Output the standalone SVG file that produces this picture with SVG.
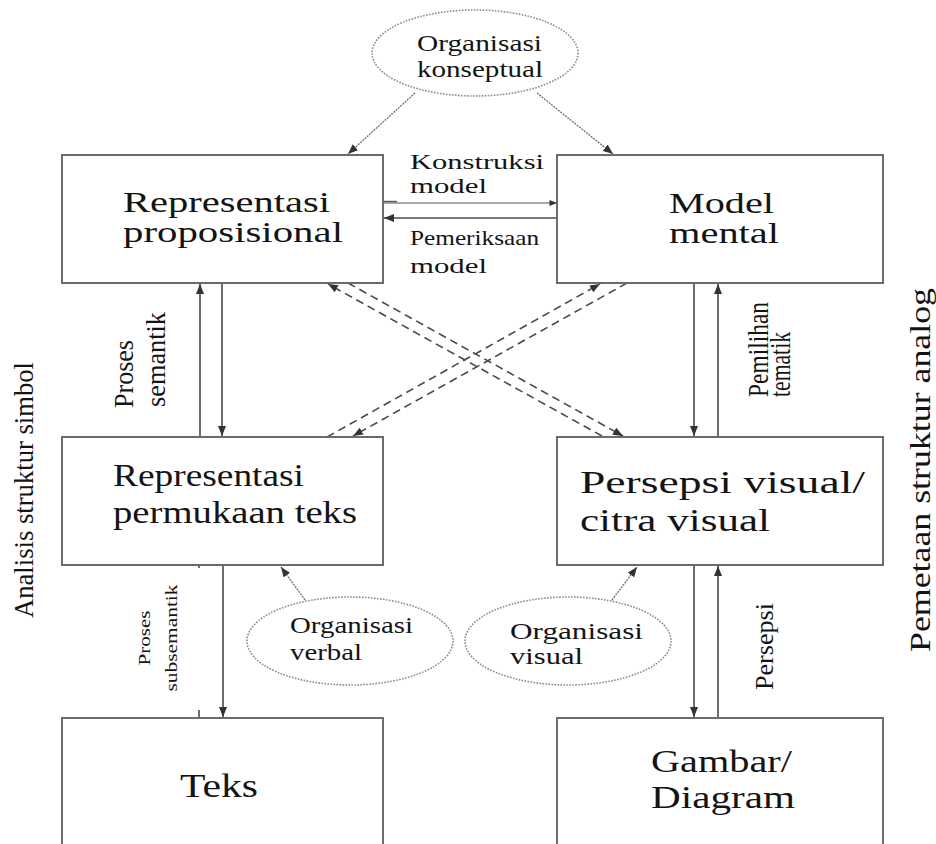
<svg xmlns="http://www.w3.org/2000/svg" width="936" height="844" viewBox="0 0 936 844">
  <style>
    .box { fill: #ffffff; stroke: #6b6b6b; stroke-width: 2; }
    .oval { fill: #ffffff; stroke: #8a8a8a; stroke-width: 1.6; stroke-dasharray: 1.6 1.4; }
    .t { font-family: "Liberation Serif", "Times New Roman", serif; fill: #141414; }
    .solid { stroke: #4a4a4a; stroke-width: 1.6; fill: none; }
    .thin { stroke: #555555; stroke-width: 1.1; fill: none; }
    .dotline { stroke: #6e6e6e; stroke-width: 1.3; fill: none; stroke-dasharray: 2 1; }
    .dash { stroke: #4a4a4a; stroke-width: 1.6; fill: none; stroke-dasharray: 8 5; }
  </style>
  <defs>
    <marker id="ah" viewBox="0 0 10 8" refX="10" refY="4" markerWidth="10" markerHeight="8" markerUnits="userSpaceOnUse" orient="auto">
      <path d="M0,0 L10,4 L0,8 z" fill="#333333"/>
    </marker>
    <marker id="ahs" viewBox="0 0 10 8" refX="10" refY="4" markerWidth="8" markerHeight="6" markerUnits="userSpaceOnUse" orient="auto">
      <path d="M0,0 L10,4 L0,8 z" fill="#333333"/>
    </marker>
  </defs>

  <rect width="936" height="844" fill="#ffffff"/>

  <!-- connectors -->
  <g id="connectors">
    <!-- from conceptual organisation down to both upper boxes -->
    <line class="dotline" x1="415" y1="93" x2="348" y2="154" marker-end="url(#ah)"/>
    <line class="dotline" x1="537" y1="93" x2="613" y2="154" marker-end="url(#ah)"/>
    <!-- model construction / model checking -->
    <line class="thin" x1="383" y1="203" x2="557" y2="203" marker-end="url(#ahs)"/>
    <line x1="383" y1="201.5" x2="397" y2="201.5" stroke="#555" stroke-width="1.4"/>
    <line class="solid" x1="557" y1="218" x2="384" y2="218" marker-end="url(#ah)"/>
    <!-- semantic processing -->
    <line class="solid" x1="200" y1="437" x2="200" y2="284" marker-end="url(#ah)"/>
    <line class="solid" x1="222" y1="283" x2="222" y2="436" marker-end="url(#ah)"/>
    <!-- thematic selection -->
    <line class="solid" x1="694" y1="283" x2="694" y2="436" marker-end="url(#ah)"/>
    <line class="solid" x1="718" y1="437" x2="718" y2="284" marker-end="url(#ah)"/>
    <!-- crossing dashed links -->
    <line class="dash" x1="602" y1="436" x2="328" y2="284" marker-end="url(#ah)"/>
    <line class="dash" x1="348" y1="283" x2="623" y2="436" marker-end="url(#ah)"/>
    <line class="dash" x1="627" y1="283" x2="353" y2="436" marker-end="url(#ah)"/>
    <line class="dash" x1="327" y1="437" x2="600" y2="284" marker-end="url(#ah)"/>
    <!-- subsemantic processing -->
    <line class="solid" x1="223" y1="565" x2="223" y2="717" marker-end="url(#ah)"/>
    <line class="solid" x1="199" y1="710" x2="199" y2="718"/>
    <line class="solid" x1="199" y1="565" x2="199" y2="568"/>
    <!-- perception -->
    <line class="solid" x1="694" y1="565" x2="694" y2="717" marker-end="url(#ah)"/>
    <line class="solid" x1="718" y1="718" x2="718" y2="566" marker-end="url(#ah)"/>
    <!-- verbal / visual organisation -->
    <line class="dotline" x1="305" y1="600" x2="281" y2="567" marker-end="url(#ah)"/>
    <line class="dotline" x1="612" y1="600" x2="637" y2="567" marker-end="url(#ah)"/>
  </g>

  <g id="org-konseptual">
    <ellipse class="oval" cx="475" cy="53" rx="103" ry="43"/>
    <text class="t" x="417" y="51" font-size="23" textLength="125" lengthAdjust="spacingAndGlyphs">Organisasi</text>
    <text class="t" x="417" y="77" font-size="23" textLength="126" lengthAdjust="spacingAndGlyphs">konseptual</text>
  </g>

  <g id="label-konstruksi">
    <text class="t" x="410" y="169" font-size="22" textLength="134" lengthAdjust="spacingAndGlyphs">Konstruksi</text>
    <text class="t" x="410" y="193" font-size="22" textLength="77" lengthAdjust="spacingAndGlyphs">model</text>
  </g>
  <g id="label-pemeriksaan">
    <text class="t" x="410" y="245" font-size="22" textLength="129" lengthAdjust="spacingAndGlyphs">Pemeriksaan</text>
    <text class="t" x="410" y="273" font-size="22" textLength="77" lengthAdjust="spacingAndGlyphs">model</text>
  </g>

  <g id="rep-proposisional">
    <rect class="box" x="62" y="155" width="321" height="128"/>
    <text class="t" x="123" y="212" font-size="30" textLength="207" lengthAdjust="spacingAndGlyphs">Representasi</text>
    <text class="t" x="123" y="242" font-size="30" textLength="220" lengthAdjust="spacingAndGlyphs">proposisional</text>
  </g>

  <g id="model-mental">
    <rect class="box" x="557" y="155" width="326" height="128"/>
    <text class="t" x="669" y="213" font-size="30" textLength="105" lengthAdjust="spacingAndGlyphs">Model</text>
    <text class="t" x="669" y="243" font-size="30" textLength="110" lengthAdjust="spacingAndGlyphs">mental</text>
  </g>

  <g id="rep-permukaan">
    <rect class="box" x="62" y="437" width="321" height="128"/>
    <text class="t" x="113" y="486" font-size="31" textLength="191" lengthAdjust="spacingAndGlyphs">Representasi</text>
    <text class="t" x="113" y="523" font-size="31" textLength="244" lengthAdjust="spacingAndGlyphs">permukaan teks</text>
  </g>

  <g id="persepsi-visual">
    <rect class="box" x="557" y="437" width="326" height="128"/>
    <text class="t" x="580" y="493" font-size="31" textLength="285" lengthAdjust="spacingAndGlyphs">Persepsi visual/</text>
    <text class="t" x="580" y="531" font-size="31" textLength="190" lengthAdjust="spacingAndGlyphs">citra visual</text>
  </g>

  <g id="teks">
    <rect class="box" x="62" y="718" width="321" height="150"/>
    <text class="t" x="180" y="797" font-size="33" textLength="78" lengthAdjust="spacingAndGlyphs">Teks</text>
  </g>

  <g id="gambar-diagram">
    <rect class="box" x="557" y="718" width="326" height="150"/>
    <text class="t" x="651" y="772" font-size="31" textLength="141" lengthAdjust="spacingAndGlyphs">Gambar/</text>
    <text class="t" x="651" y="808" font-size="31" textLength="144" lengthAdjust="spacingAndGlyphs">Diagram</text>
  </g>

  <g id="org-verbal">
    <ellipse class="oval" cx="350" cy="641" rx="103" ry="44"/>
    <text class="t" x="290" y="633" font-size="23" textLength="123" lengthAdjust="spacingAndGlyphs">Organisasi</text>
    <text class="t" x="290" y="660" font-size="23" textLength="72" lengthAdjust="spacingAndGlyphs">verbal</text>
  </g>

  <g id="org-visual">
    <ellipse class="oval" cx="568" cy="641" rx="103" ry="44"/>
    <text class="t" x="510" y="639" font-size="23" textLength="133" lengthAdjust="spacingAndGlyphs">Organisasi</text>
    <text class="t" x="510" y="664" font-size="23" textLength="73" lengthAdjust="spacingAndGlyphs">visual</text>
  </g>

  <!-- rotated edge labels -->
  <g id="label-proses-semantik">
    <text class="t" transform="translate(133,408) scale(1.05,1) rotate(-90)" font-size="26" textLength="68" lengthAdjust="spacingAndGlyphs">Proses</text>
    <text class="t" transform="translate(165,407) scale(1.05,1) rotate(-90)" font-size="26" textLength="95" lengthAdjust="spacingAndGlyphs">semantik</text>
  </g>
  <g id="label-pemilihan">
    <text class="t" transform="translate(768,397) scale(1.3,1) rotate(-90)" font-size="23" textLength="95" lengthAdjust="spacingAndGlyphs">Pemilihan</text>
    <text class="t" transform="translate(790,397) scale(1.3,1) rotate(-90)" font-size="23" textLength="65" lengthAdjust="spacingAndGlyphs">tematik</text>
  </g>
  <g id="label-subsemantik">
    <text class="t" transform="translate(150,638) scale(0.85,1) rotate(-90)" font-size="20" text-anchor="middle" textLength="55" lengthAdjust="spacingAndGlyphs">Proses</text>
    <text class="t" transform="translate(177,638) scale(0.85,1) rotate(-90)" font-size="20" text-anchor="middle" textLength="107" lengthAdjust="spacingAndGlyphs">subsemantik</text>
  </g>
  <g id="label-persepsi">
    <text class="t" transform="translate(773,690) rotate(-90)" font-size="26" textLength="87" lengthAdjust="spacingAndGlyphs">Persepsi</text>
  </g>

  <!-- side captions -->
  <text class="t" transform="translate(33,618) scale(1.05,1) rotate(-90)" font-size="27" textLength="256" lengthAdjust="spacingAndGlyphs">Analisis struktur simbol</text>
  <text class="t" transform="translate(930,652) rotate(-90)" font-size="29" textLength="364" lengthAdjust="spacingAndGlyphs">Pemetaan struktur analog</text>
</svg>
